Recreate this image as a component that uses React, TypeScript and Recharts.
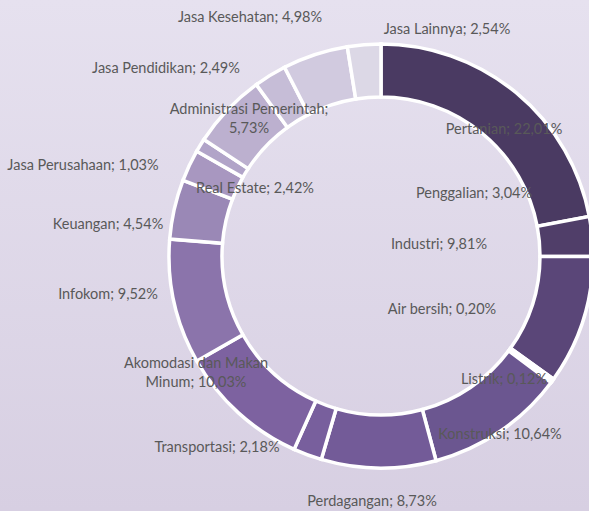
import { PieChart, Pie, Cell } from "recharts"

const sectors = [
  "Pertanian",
  "Penggalian",
  "Industri",
  "Air bersih",
  "Listrik",
  "Konstruksi",
  "Perdagangan",
  "Transportasi",
  "Akomodasi dan Makan Minum",
  "Infokom",
  "Keuangan",
  "Real Estate",
  "Jasa Perusahaan",
  "Administrasi Pemerintah",
  "Jasa Pendidikan",
  "Jasa Kesehatan",
  "Jasa Lainnya",
]

const shares = [
  22.01, 3.04, 9.81, 0.2, 0.12, 10.64, 8.73, 2.18, 10.03, 9.52, 4.54, 2.42, 1.03,
  5.73, 2.49, 4.98, 2.54,
]

const colors = [
  "#4a3a62",
  "#503e69",
  "#5a4678",
  "#624d84",
  "#664f88",
  "#6b5690",
  "#735b98",
  "#785f9d",
  "#7d62a0",
  "#8b74ab",
  "#9a88b6",
  "#a897c0",
  "#b1a4c8",
  "#bcb0cf",
  "#c6bdd7",
  "#d1cadf",
  "#dcd8e6",
]

// label lines as shown in the source (Excel places some on two lines)
const labelLines = [
  ["Pertanian; 22,01%"],
  ["Penggalian; 3,04%"],
  ["Industri; 9,81%"],
  ["Air bersih; 0,20%"],
  ["Listrik; 0,12%"],
  ["Konstruksi; 10,64%"],
  ["Perdagangan; 8,73%"],
  ["Transportasi; 2,18%"],
  ["Akomodasi dan Makan", "Minum; 10,03%"],
  ["Infokom; 9,52%"],
  ["Keuangan; 4,54%"],
  ["Real Estate; 2,42%"],
  ["Jasa Perusahaan; 1,03%"],
  ["Administrasi Pemerintah;", "5,73%"],
  ["Jasa Pendidikan; 2,49%"],
  ["Jasa Kesehatan; 4,98%"],
  ["Jasa Lainnya; 2,54%"],
]

const data = sectors.map((name, i) => ({ name, value: shares[i] }))

const CX = 381
const CY = 256

// label offsets from the pie centre (manually placed labels in the original)
const labelOffsets = [
  [123, -128],
  [93, -64],
  [58, -13],
  [61, 52],
  [123, 122],
  [119, 177],
  [-9, 244],
  [-164, 190],
  [-185, 115],
  [-273, 37],
  [-273, -33],
  [-126, -69],
  [-298, -92],
  [-132, -139],
  [-215, -189],
  [-131, -240],
  [66, -228],
]

const renderLabel = (props: any) => {
  const i = props.index
  const [dx, dy] = labelOffsets[i]
  const lines = labelLines[i]
  const lh = 19
  const top = CY + dy - ((lines.length - 1) * lh) / 2
  return (
    <text
      key={`l-${i}`}
      x={CX + dx}
      y={top}
      textAnchor="middle"
      dominantBaseline="central"
      fill="#595959"
      fontSize={14.5}
      fontFamily="Lato, sans-serif"
    >
      {lines.map((t, k) => (
        <tspan key={k} x={CX + dx} y={top + k * lh}>
          {t}
        </tspan>
      ))}
    </text>
  )
}

export default function App() {
  return (
    <div
      style={{
        position: "fixed",
        left: 0,
        top: 0,
        width: 589,
        height: 511,
        overflow: "hidden",
        background: "linear-gradient(180deg, #e6e1ef 0%, #d7cfe2 100%)",
      }}
    >
      <PieChart
        width={589}
        height={511}
        margin={{ top: 0, right: 0, bottom: 0, left: 0 }}
      >
        <Pie
          data={data}
          dataKey="value"
          nameKey="name"
          cx={CX}
          cy={CY}
          innerRadius={159}
          outerRadius={212}
          startAngle={90}
          endAngle={-270}
          stroke="#ffffff"
          strokeWidth={3.5}
          label={renderLabel}
          labelLine={false}
          isAnimationActive={false}
        >
          {data.map((d, i) => (
            <Cell key={d.name} fill={colors[i]} />
          ))}
        </Pie>
      </PieChart>
    </div>
  )
}
